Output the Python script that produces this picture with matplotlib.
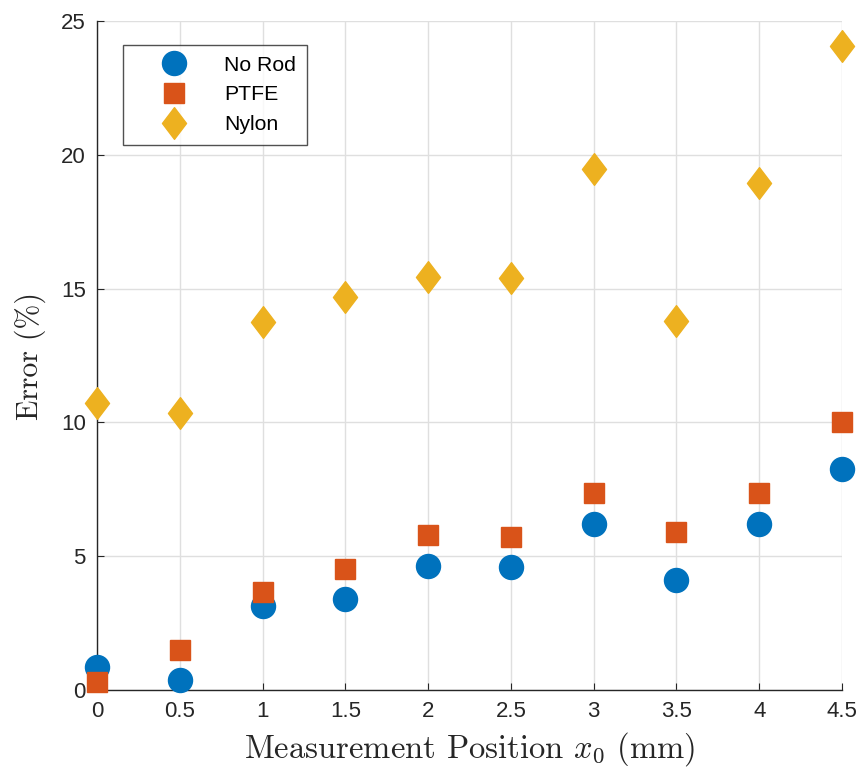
import matplotlib
matplotlib.use("Agg")
import matplotlib.pyplot as plt
from matplotlib.path import Path

positions = [0, 0.5, 1, 1.5, 2, 2.5, 3, 3.5, 4, 4.5]
no_rod = [0.86, 0.37, 3.14, 3.40, 4.63, 4.60, 6.20, 4.11, 6.20, 8.24]
ptfe = [0.30, 1.49, 3.66, 4.52, 5.79, 5.72, 7.36, 5.90, 7.36, 10.0]
nylon = [10.72, 10.35, 13.75, 14.69, 15.43, 15.40, 19.48, 13.79, 18.93, 24.05]
xticks = [0, 0.5, 1, 1.5, 2, 2.5, 3, 3.5, 4, 4.5]
xticklabels = ["0", "0.5", "1", "1.5", "2", "2.5", "3", "3.5", "4", "4.5"]
yticks = [0, 5, 10, 15, 20, 25]

plt.rcParams['font.family'] = ['Liberation Sans', 'DejaVu Sans']
plt.rcParams['mathtext.fontset'] = 'cm'

diamond = Path([(0, 1), (0.76, 0), (0, -1), (-0.76, 0), (0, 1)],
               [Path.MOVETO, Path.LINETO, Path.LINETO, Path.LINETO, Path.CLOSEPOLY])

fig = plt.figure(figsize=(8.64, 7.79), dpi=100)
ax = fig.add_axes([97/864, 89/779, 745/864, 669/779])

ax.plot(positions, no_rod, linestyle='none', marker='o', markersize=17.3,
        color='#0072BD', label='No Rod', clip_on=False, zorder=3)
ax.plot(positions, ptfe, linestyle='none', marker='s', markersize=13.8,
        color='#D95319', label='PTFE', clip_on=False, zorder=4)
ax.plot(positions, nylon, linestyle='none', marker=diamond, markersize=22.8,
        color='#EDB120', label='Nylon', clip_on=False, zorder=5)

ax.set_xlim(0, 4.5)
ax.set_ylim(0, 25)
ax.set_xticks(xticks)
ax.set_xticklabels(xticklabels)
ax.set_yticks(yticks)
ax.grid(True, color='#dfdfdf', linewidth=1)
ax.set_axisbelow(True)
for s in ['top', 'right']:
    ax.spines[s].set_visible(False)
for s in ['left', 'bottom']:
    ax.spines[s].set_color('#262626')
    ax.spines[s].set_linewidth(1)
ax.tick_params(direction='in', length=5, labelsize=16, colors='#262626', pad=8)

ax.set_xlabel('Measurement Position $x_0$ (mm)', fontfamily='cmr10',
              fontsize=23.5, color='#262626', labelpad=6)
ax.set_ylabel('Error (%)', fontfamily='cmr10',
              fontsize=21.5, color='#262626', labelpad=11)

leg = ax.legend(loc='upper left', bbox_to_anchor=(0.035, 0.964), fontsize=15.3,
                frameon=True, fancybox=False, edgecolor='#262626',
                handletextpad=0.5, handlelength=3.75, borderpad=0.5,
                borderaxespad=0, labelspacing=0.5, markerscale=1.0)
leg.get_frame().set_linewidth(1)

fig.savefig('out.png', dpi=100)
